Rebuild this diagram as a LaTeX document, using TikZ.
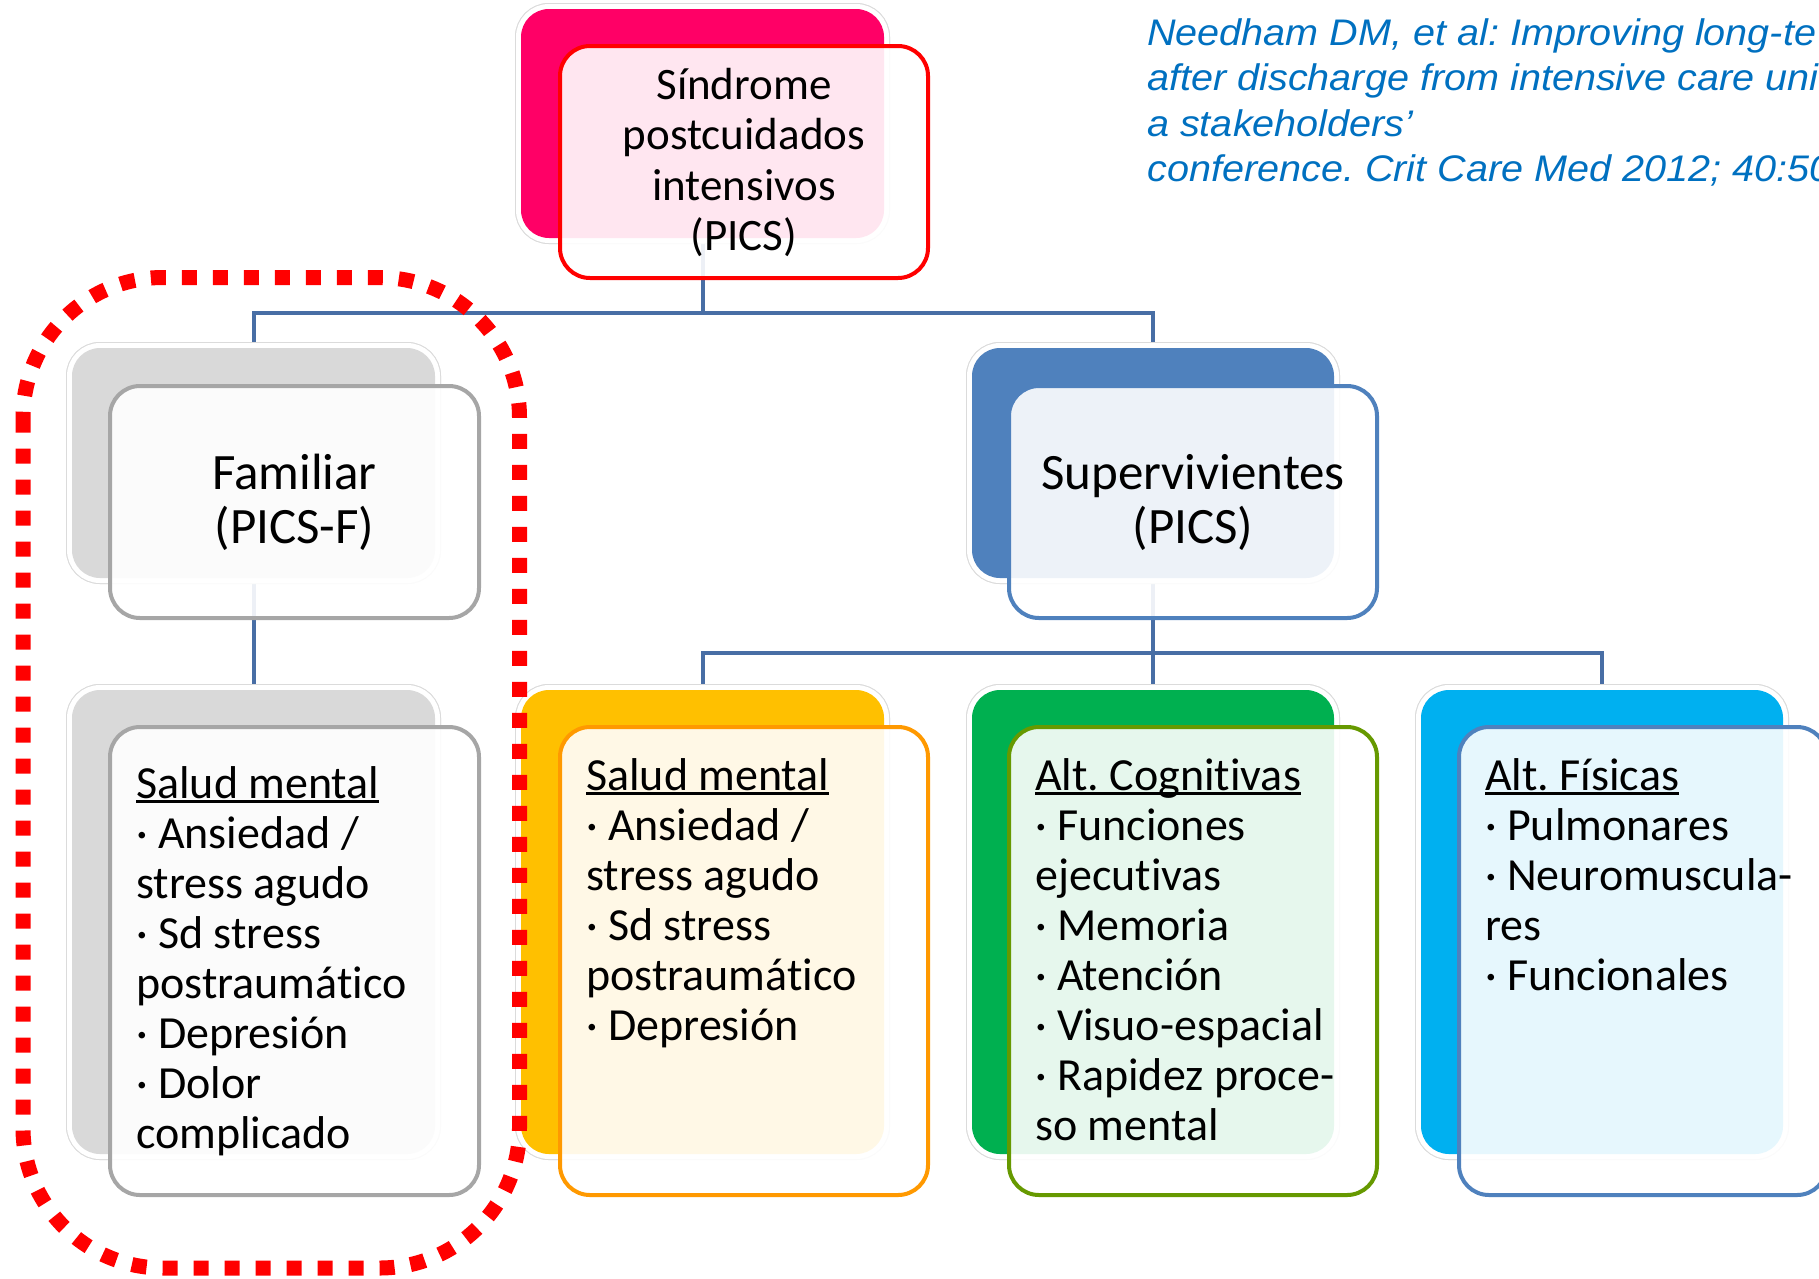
\documentclass[tikz,border=0pt]{standalone}
\usepackage{fontspec}
\setmainfont[Ligatures={NoCommon,NoContextual}]{Carlito}
\newfontfamily\citefont[FakeStretch=1.07]{Liberation Sans}
\frenchspacing

\definecolor{picsback}{RGB}{255,0,102}
\definecolor{picsline}{RGB}{255,0,0}
\definecolor{famback}{RGB}{217,217,217}
\definecolor{famline}{RGB}{166,166,166}
\definecolor{survback}{RGB}{79,129,189}
\definecolor{survline}{RGB}{79,129,189}
\definecolor{mentback}{RGB}{255,192,0}
\definecolor{mentline}{RGB}{255,153,0}
\definecolor{cogback}{RGB}{0,176,80}
\definecolor{cogline}{RGB}{102,153,0}
\definecolor{physback}{RGB}{0,176,240}
\definecolor{physline}{RGB}{79,129,189}
\definecolor{linkblue}{RGB}{72,110,165}
\definecolor{citeblue}{RGB}{0,112,192}
\definecolor{framered}{RGB}{255,0,0}

% font sizes used in the boxes
\newcommand\boxfont{\fontsize{46pt}{50pt}\selectfont}
\newcommand\headfont{\fontsize{51pt}{54pt}\selectfont}
\newcommand\topfont{\fontsize{45pt}{50.5pt}\selectfont}
\newcommand\citesize{\fontsize{37pt}{45.5pt}\selectfont}

% underlined heading with a fixed rule just below the baseline
\newcommand\uhead[1]{\leavevmode\setbox0=\hbox{#1}\rlap{\rule[-5pt]{\wd0}{2.6pt}}\box0}
\newcommand\listbox[1]{\parbox[t]{360pt}{\boxfont\raggedright #1}}
\newcommand\centerbox[2]{\parbox[t]{380pt}{#1\centering #2}}

\begin{document}
\begin{tikzpicture}[x=1pt,y=-1pt,
  link/.style={draw=linkblue, line width=4pt},
  backbox/.style={rectangle, anchor=north west, inner sep=0pt, outer sep=0pt,
    rounded corners=28pt, fill=#1,
    preaction={draw=black!14, line width=12pt},
    preaction={draw=white, line width=10pt}},
  frontbox/.style={rectangle, anchor=north west, inner sep=0pt, outer sep=0pt,
    rounded corners=30pt, draw=#1, line width=4pt, fill=white, fill opacity=0.9},
  listtext/.style={anchor=base west, inner sep=0pt},
  centertext/.style={anchor=base, inner sep=0pt},
  frame/.style={draw=framered, line width=15pt, dash pattern=on 15pt off 16pt,
    rounded corners=140pt}
]
\useasboundingbox (0,0) rectangle (1819,1278);

% junction levels of the tree
\coordinate (lvl1) at (0,313);
\coordinate (lvl2) at (0,653);

% back (coloured) boxes
\node[backbox=picsback, minimum width=363pt, minimum height=229pt] (topB) at (521,9) {};
\node[backbox=famback,  minimum width=363pt, minimum height=230pt] (famB) at (72,348) {};
\node[backbox=survback, minimum width=362pt, minimum height=230pt] (survB) at (972,348) {};
\node[backbox=famback,  minimum width=363pt, minimum height=464pt] (fmB) at (72,690) {};
\node[backbox=mentback, minimum width=363pt, minimum height=464pt] (smB) at (521,690) {};
\node[backbox=cogback,  minimum width=362pt, minimum height=464pt] (cgB) at (972,690) {};
\node[backbox=physback, minimum width=362pt, minimum height=464pt] (phB) at (1421,690) {};

% connectors (drawn under the translucent front boxes)
\draw[link] (topB.south) -- (topB.south |- lvl1);
\draw[link] (famB.north) -- (famB.north |- lvl1) -- (survB.north |- lvl1) -- (survB.north);
\draw[link] (famB.south) -- (fmB.north);
\draw[link] (survB.south) -- (survB.south |- lvl2);
\draw[link] (smB.north) -- (smB.north |- lvl2) -- (phB.north |- lvl2) -- (phB.north);
\draw[link] (cgB.north) -- (cgB.north |- lvl2);

% redraw back boxes over the connector ends
\node[backbox=picsback, minimum width=363pt, minimum height=229pt] (topB2) at (521,9) {};
\node[backbox=famback,  minimum width=363pt, minimum height=230pt] (famB2) at (72,348) {};
\node[backbox=survback, minimum width=362pt, minimum height=230pt] (survB2) at (972,348) {};
\node[backbox=famback,  minimum width=363pt, minimum height=464pt] (fmB2) at (72,690) {};
\node[backbox=mentback, minimum width=363pt, minimum height=464pt] (smB2) at (521,690) {};
\node[backbox=cogback,  minimum width=362pt, minimum height=464pt] (cgB2) at (972,690) {};
\node[backbox=physback, minimum width=362pt, minimum height=464pt] (phB2) at (1421,690) {};

% translucent front boxes
\node[frontbox=picsline, minimum width=368pt, minimum height=232pt] (topF) at (560,46) {};
\node[frontbox=famline,  minimum width=369pt, minimum height=232pt] (famF) at (110,386) {};
\node[frontbox=survline, minimum width=368pt, minimum height=232pt] (survF) at (1009,386) {};
\node[frontbox=famline,  minimum width=369pt, minimum height=468pt] (fmF) at (110,727) {};
\node[frontbox=mentline, minimum width=368pt, minimum height=468pt] (smF) at (560,727) {};
\node[frontbox=cogline,  minimum width=368pt, minimum height=468pt] (cgF) at (1009,727) {};
\node[frontbox=physline, minimum width=368pt, minimum height=468pt] (phF) at (1459,727) {};

% texts
\node[centertext] (topT) at (744,99)
  {\centerbox{\topfont}{Síndrome\\ postcuidados\\ intensivos\\ (PICS)}};
\node[centertext] (famT) at (294.5,489)
  {\centerbox{\headfont}{Familiar\\ (PICS-F)}};
\node[centertext] (survT) at (1193,489)
  {\centerbox{\headfont}{Supervivientes\\ (PICS)}};

\node[listtext] (fmT) at (136,798) {\listbox{\uhead{Salud mental}\\
  · Ansiedad /\\ stress agudo\\ · Sd stress\\ postraumático\\
  · Depresión\\ · Dolor\\ complicado}};
\node[listtext] (smT) at (586,790) {\listbox{\uhead{Salud mental}\\
  · Ansiedad /\\ stress agudo\\ · Sd stress\\ postraumático\\
  · Depresión}};
\node[listtext] (cgT) at (1035,790) {\listbox{\uhead{Alt. Cognitivas}\\
  · Funciones\\ ejecutivas\\ · Memoria\\ · Atención\\
  · Visuo-espacial\\ · Rapidez proce-\\ so mental}};
\node[listtext] (phT) at (1485,790) {\listbox{\uhead{Alt. Físicas}\\
  · Pulmonares\\ · Neuromuscula-\\ res\\ · Funcionales}};

% reference note
\node[anchor=base west, inner sep=0pt, text=citeblue] (cite) at (1147,45)
  {\parbox[t]{900pt}{\raggedright\citefont\itshape\citesize
   Needham DM, et al: Improving long-te\\
   after discharge from intensive care uni\\
   a stakeholders’\\
   conference. Crit Care Med 2012; 40:502}};

% dotted frame around the family branch
\draw[frame] (23,277.5) rectangle (519.5,1268);
\end{tikzpicture}
\end{document}
